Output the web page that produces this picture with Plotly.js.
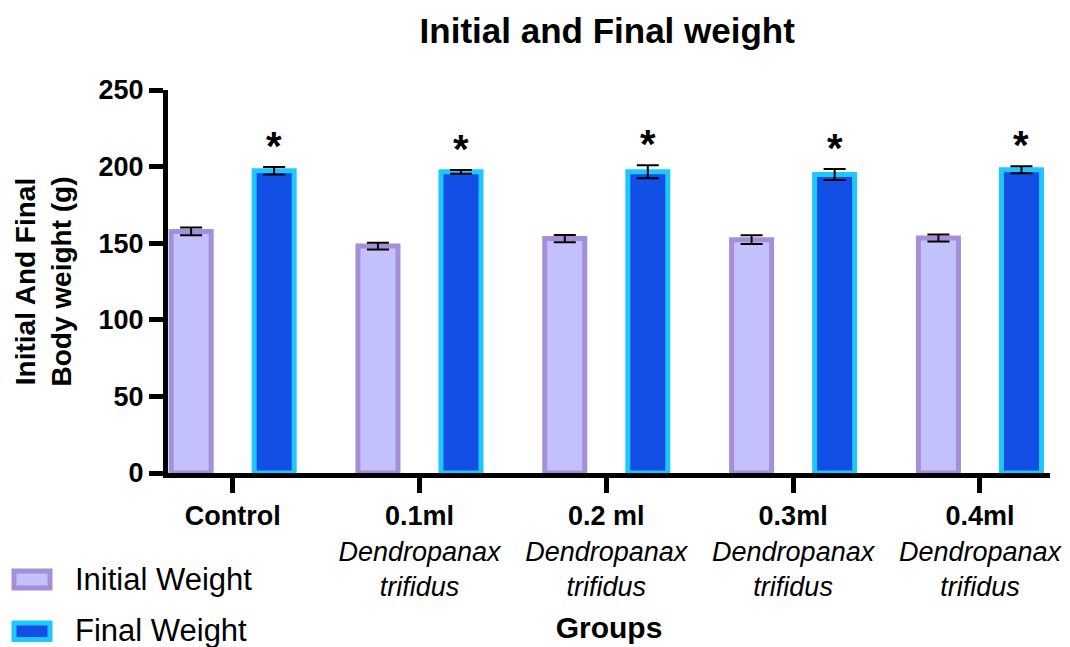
<!DOCTYPE html>
<html>
<head>
<meta charset="utf-8">
<script src="https://cdn.plot.ly/plotly-3.0.1.min.js"></script>
<style>html,body{margin:0;padding:0;background:#fff;}#chart{width:1070px;height:647px;}</style>
</head>
<body>
<div id="chart"></div>
<script>
// ---- data ----
var groups = ["Control", "0.1ml", "0.2 ml", "0.3ml", "0.4ml"];
var speciesLine1 = "Dendropanax";
var speciesLine2 = "trifidus";
var seriesNames = ["Initial Weight", "Final Weight"];
var initialWeight = [157.7, 148.1, 153.0, 152.3, 153.4];
var initialErr = [2.5, 2.2, 2.3, 2.9, 2.3];
var finalWeight = [197.3, 196.6, 196.6, 194.8, 197.9];
var finalErr = [2.4, 1.2, 4.2, 3.6, 2.3];
var significance = ["*", "*", "*", "*", "*"];
var yTicks = [0, 50, 100, 150, 200, 250];

// ---- styles ----
var FONT = "Liberation Sans, Arial, Helvetica, sans-serif";
var initFill = "#c3c1fb", initLine = "#a58fd6";
var finFill = "#134fe4", finLine = "#1ec8ff";

var xIdx = groups.map(function (g, i) { return i; });
var tickText = groups.map(function (g, i) {
  if (i === 0) return "<b>" + g + "</b>";
  return "<b>" + g + "</b><br><i>" + speciesLine1 + "<br>" + speciesLine2 + "</i>";
});

var traces = [
  {
    type: "bar", name: seriesNames[0], x: xIdx, y: initialWeight,
    marker: { color: initFill, line: { color: initLine, width: 5 } },
    error_y: { type: "data", array: initialErr, visible: true, color: "#000", thickness: 2, width: 11 },
    showlegend: false, hoverinfo: "y"
  },
  {
    type: "bar", name: seriesNames[1], x: xIdx, y: finalWeight,
    marker: { color: finFill, line: { color: finLine, width: 5 } },
    error_y: { type: "data", array: finalErr, visible: true, color: "#000", thickness: 2, width: 11 },
    showlegend: false, hoverinfo: "y"
  }
];

var annotations = significance.map(function (s, i) {
  return {
    x: i + 0.222, y: finalWeight[i] + finalErr[i], xref: "x", yref: "y",
    text: "<b>" + s + "</b>", showarrow: false, xanchor: "center", yanchor: "bottom",
    yshift: -3, font: { family: FONT, size: 40, color: "#000" }
  };
});

// manual legend text
annotations.push({
  xref: "paper", yref: "paper", x: 0, y: 0, text: seriesNames[0], showarrow: false,
  xanchor: "left", yanchor: "middle", font: { family: FONT, size: 31, color: "#000" }
});
annotations.push({
  xref: "paper", yref: "paper", x: 0, y: 0, text: seriesNames[1], showarrow: false,
  xanchor: "left", yanchor: "middle", font: { family: FONT, size: 31, color: "#000" }
});

var M = { l: 168, r: 20, t: 90, b: 174 };
var W = 1070, H = 647;
var pw = W - M.l - M.r, ph = H - M.t - M.b;
function px2x(px) { return (px - M.l) / pw; }
function py2y(py) { return (H - M.b - py) / ph; }

annotations[5].x = px2x(73); annotations[5].y = py2y(579);
annotations[6].x = px2x(73); annotations[6].y = py2y(630);

var shapes = [
  { type: "rect", xref: "paper", yref: "paper", x0: px2x(14), x1: px2x(50), y0: py2y(588), y1: py2y(571),
    fillcolor: initFill, line: { color: initLine, width: 5 } },
  { type: "rect", xref: "paper", yref: "paper", x0: px2x(14), x1: px2x(50), y0: py2y(639.5), y1: py2y(623),
    fillcolor: finFill, line: { color: finLine, width: 5 } }
];

var layout = {
  width: W, height: H,
  margin: M,
  paper_bgcolor: "#fff", plot_bgcolor: "#fff",
  font: { family: FONT, color: "#000" },
  title: {
    text: "<b>Initial and Final weight</b>",
    font: { family: FONT, size: 35, color: "#000" },
    x: 0.498, xref: "paper", xanchor: "center",
    y: 1 - 31 / H, yref: "container", yanchor: "middle"
  },
  barmode: "group", bargap: 0.111, bargroupgap: 0.518,
  xaxis: {
    range: [-0.346, 4.375], tickmode: "array", tickvals: xIdx, ticktext: tickText,
    showline: true, linecolor: "#000", linewidth: 5, ticks: "outside", ticklen: 15, tickwidth: 5, tickcolor: "#000",
    showgrid: false, zeroline: false, fixedrange: true,
    tickfont: { family: FONT, size: 27, color: "#000" },
    title: { text: "<b>Groups</b>", font: { family: FONT, size: 30, color: "#000" }, standoff: 18 },
    automargin: false
  },
  yaxis: {
    range: [0, 250], tickmode: "array", tickvals: yTicks,
    showline: true, linecolor: "#000", linewidth: 5, ticks: "outside", ticklen: 14, tickwidth: 5, tickcolor: "#000",
    showgrid: false, zeroline: false, fixedrange: true,
    tickfont: { family: FONT, size: 27, color: "#000", weight: "bold" },
    title: { text: "<b>Initial And Final<br>Body weight (g)</b>", font: { family: FONT, size: 28, color: "#000" }, standoff: 20 },
    automargin: false
  },
  annotations: annotations,
  shapes: shapes,
  showlegend: false
};

Plotly.newPlot("chart", traces, layout, { displayModeBar: false, staticPlot: true });
</script>
</body>
</html>
